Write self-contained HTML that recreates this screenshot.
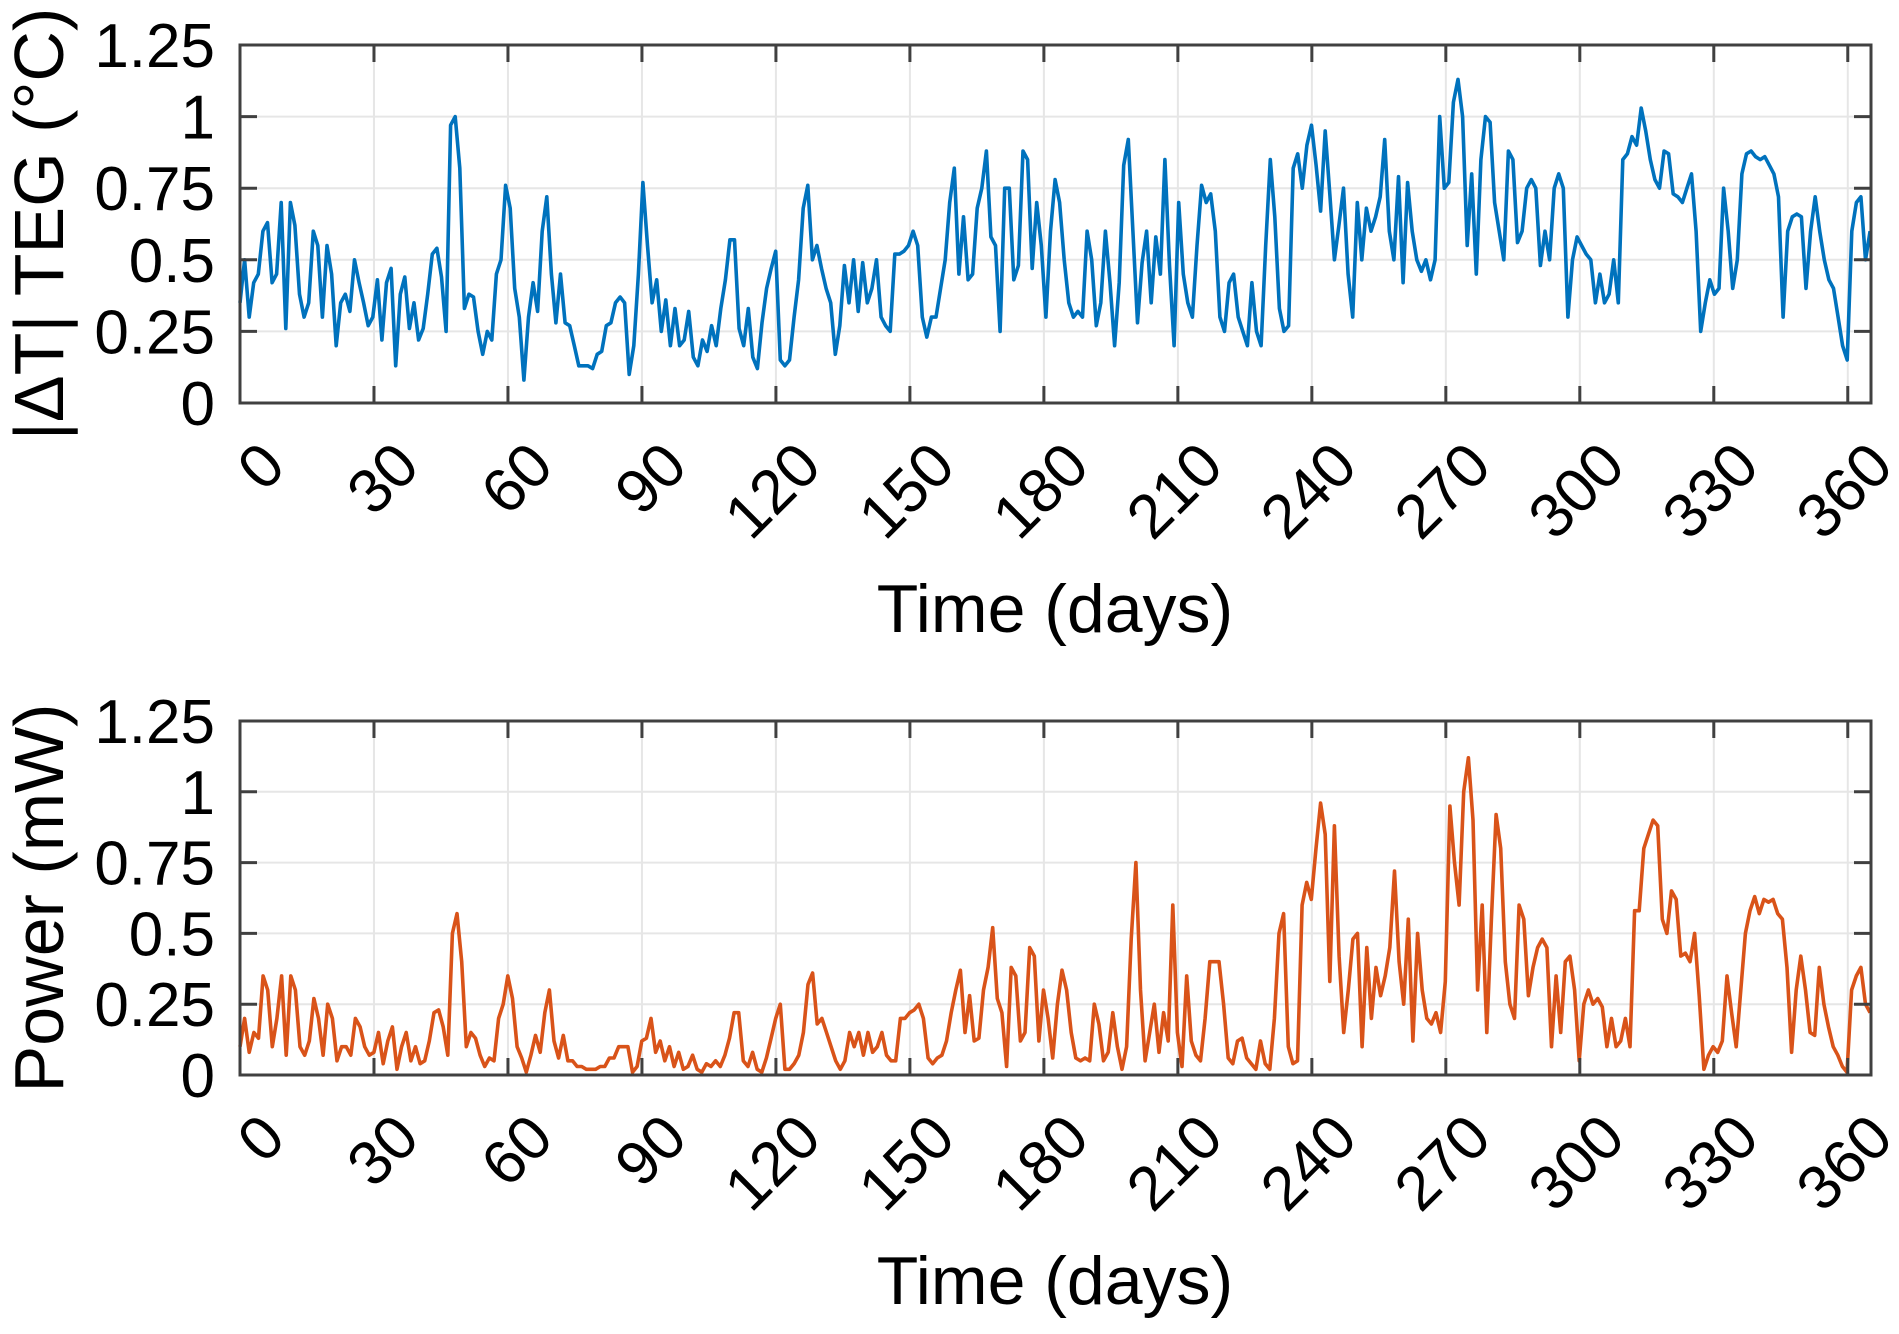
<!DOCTYPE html>
<html><head><meta charset="utf-8"><style>
html,body{margin:0;padding:0;background:#fff;}
svg{display:block;font-family:"Liberation Sans",Arial,sans-serif;}
</style></head><body>
<svg id="chart" width="1899" height="1334" viewBox="0 0 1899 1334"></svg>
<script>
const xTicks=[0,30,60,90,120,150,180,210,240,270,300,330,360];
const yTicks=[0,0.25,0.5,0.75,1,1.25];
const yTickLabels=["0","0.25","0.5","0.75","1","1.25"];
const dayMax=365;
const deltaT=[0.35,0.5,0.3,0.42,0.45,0.6,0.63,0.42,0.45,0.7,0.26,0.7,0.62,0.38,0.3,0.35,0.6,0.55,0.3,0.55,0.45,0.2,0.35,0.38,0.32,0.5,0.42,0.35,0.27,0.3,0.43,0.22,0.42,0.47,0.13,0.38,0.44,0.26,0.35,0.22,0.26,0.38,0.52,0.54,0.44,0.25,0.97,1.0,0.82,0.33,0.38,0.37,0.25,0.17,0.25,0.22,0.45,0.5,0.76,0.68,0.4,0.3,0.08,0.3,0.42,0.32,0.6,0.72,0.45,0.28,0.45,0.28,0.27,0.2,0.13,0.13,0.13,0.12,0.17,0.18,0.27,0.28,0.35,0.37,0.35,0.1,0.2,0.45,0.77,0.55,0.35,0.43,0.25,0.36,0.2,0.33,0.2,0.22,0.32,0.16,0.13,0.22,0.18,0.27,0.2,0.33,0.43,0.57,0.57,0.26,0.2,0.33,0.16,0.12,0.28,0.4,0.47,0.53,0.15,0.13,0.15,0.3,0.43,0.68,0.76,0.5,0.55,0.47,0.4,0.35,0.17,0.27,0.48,0.35,0.5,0.32,0.49,0.35,0.4,0.5,0.3,0.27,0.25,0.52,0.52,0.53,0.55,0.6,0.55,0.3,0.23,0.3,0.3,0.4,0.5,0.7,0.82,0.45,0.65,0.43,0.45,0.68,0.75,0.88,0.58,0.55,0.25,0.75,0.75,0.43,0.48,0.88,0.85,0.47,0.7,0.55,0.3,0.6,0.78,0.7,0.5,0.35,0.3,0.32,0.3,0.6,0.5,0.27,0.35,0.6,0.42,0.2,0.42,0.83,0.92,0.6,0.28,0.49,0.6,0.35,0.58,0.45,0.85,0.48,0.2,0.7,0.45,0.35,0.3,0.55,0.76,0.7,0.73,0.6,0.3,0.25,0.42,0.45,0.3,0.25,0.2,0.42,0.25,0.2,0.55,0.85,0.65,0.33,0.25,0.27,0.82,0.87,0.75,0.9,0.97,0.83,0.67,0.95,0.73,0.5,0.62,0.75,0.45,0.3,0.7,0.5,0.68,0.6,0.65,0.72,0.92,0.6,0.5,0.79,0.42,0.77,0.6,0.5,0.46,0.5,0.43,0.5,1.0,0.75,0.77,1.05,1.13,1.0,0.55,0.8,0.45,0.85,1.0,0.98,0.7,0.6,0.5,0.88,0.85,0.56,0.6,0.75,0.78,0.75,0.48,0.6,0.5,0.75,0.8,0.75,0.3,0.5,0.58,0.55,0.52,0.5,0.35,0.45,0.35,0.38,0.5,0.35,0.85,0.87,0.93,0.9,1.03,0.95,0.85,0.78,0.75,0.88,0.87,0.73,0.72,0.7,0.75,0.8,0.6,0.25,0.35,0.43,0.38,0.4,0.75,0.6,0.4,0.5,0.8,0.87,0.88,0.86,0.85,0.86,0.83,0.8,0.72,0.3,0.6,0.65,0.66,0.65,0.4,0.6,0.72,0.6,0.5,0.43,0.4,0.3,0.2,0.15,0.6,0.7,0.72,0.5,0.6];
const power=[0.1,0.2,0.08,0.15,0.13,0.35,0.3,0.1,0.2,0.35,0.07,0.35,0.3,0.1,0.07,0.12,0.27,0.2,0.07,0.25,0.2,0.05,0.1,0.1,0.07,0.2,0.17,0.1,0.07,0.08,0.15,0.04,0.12,0.17,0.02,0.1,0.15,0.05,0.1,0.04,0.05,0.12,0.22,0.23,0.17,0.07,0.5,0.57,0.4,0.1,0.15,0.13,0.07,0.03,0.06,0.05,0.2,0.25,0.35,0.27,0.1,0.06,0.01,0.07,0.14,0.08,0.22,0.3,0.12,0.06,0.14,0.05,0.05,0.03,0.03,0.02,0.02,0.02,0.03,0.03,0.06,0.06,0.1,0.1,0.1,0.01,0.03,0.12,0.13,0.2,0.08,0.12,0.05,0.1,0.03,0.08,0.02,0.03,0.07,0.02,0.01,0.04,0.03,0.05,0.03,0.07,0.13,0.22,0.22,0.05,0.03,0.08,0.02,0.01,0.06,0.13,0.2,0.25,0.02,0.02,0.04,0.07,0.15,0.32,0.36,0.18,0.2,0.15,0.1,0.05,0.02,0.05,0.15,0.1,0.15,0.07,0.15,0.08,0.1,0.15,0.07,0.05,0.05,0.2,0.2,0.22,0.23,0.25,0.2,0.06,0.04,0.06,0.07,0.12,0.22,0.3,0.37,0.15,0.28,0.12,0.13,0.3,0.38,0.52,0.27,0.22,0.03,0.38,0.35,0.12,0.15,0.45,0.42,0.12,0.3,0.2,0.06,0.25,0.37,0.3,0.15,0.06,0.05,0.06,0.05,0.25,0.18,0.05,0.08,0.22,0.1,0.02,0.1,0.48,0.75,0.3,0.05,0.15,0.25,0.08,0.22,0.12,0.6,0.15,0.03,0.35,0.12,0.07,0.05,0.2,0.4,0.4,0.4,0.25,0.06,0.04,0.12,0.13,0.06,0.04,0.02,0.12,0.04,0.02,0.2,0.5,0.57,0.1,0.04,0.05,0.6,0.68,0.62,0.8,0.96,0.85,0.33,0.88,0.42,0.15,0.3,0.48,0.5,0.1,0.45,0.2,0.38,0.28,0.35,0.45,0.72,0.4,0.25,0.55,0.12,0.5,0.3,0.2,0.18,0.22,0.15,0.33,0.95,0.75,0.6,1.0,1.12,0.9,0.3,0.6,0.15,0.55,0.92,0.8,0.4,0.25,0.2,0.6,0.55,0.28,0.38,0.45,0.48,0.45,0.1,0.35,0.15,0.4,0.42,0.3,0.05,0.25,0.3,0.25,0.27,0.24,0.1,0.2,0.1,0.12,0.2,0.1,0.58,0.58,0.8,0.85,0.9,0.88,0.55,0.5,0.65,0.62,0.42,0.43,0.4,0.5,0.28,0.02,0.07,0.1,0.08,0.12,0.35,0.22,0.1,0.3,0.5,0.58,0.63,0.57,0.62,0.61,0.62,0.57,0.55,0.38,0.08,0.3,0.42,0.3,0.15,0.14,0.38,0.25,0.17,0.1,0.07,0.03,0.01,0.3,0.35,0.38,0.25,0.22];

const NS="http://www.w3.org/2000/svg";
const svg=document.getElementById('chart');
function mk(tag,attrs,parent){const e=document.createElementNS(NS,tag);for(const k in attrs)e.setAttribute(k,attrs[k]);(parent||svg).appendChild(e);return e;}

function drawPanel(prefix,top,bottom,values,color,ylabel){
  const L=240,R=1871,xMax=dayMax,yMax=1.25;
  const sx=d=>L+(d/xMax)*(R-L)*(365/365.2);
  const sy=v=>bottom-(v/yMax)*(bottom-top);
  const g=mk('g',{});
  
  
  xTicks.forEach(t=>{const l=mk('line',{x1:sx(t),x2:sx(t),y1:top,y2:bottom,stroke:'#e6e6e6','stroke-width':2},g);
    
    });
  yTicks.forEach(t=>{const l=mk('line',{x1:L,x2:R,y1:sy(t),y2:sy(t),stroke:'#e6e6e6','stroke-width':2},g);
    
    });
  const n=values.length;
  const pts=values.map((v,i)=>sx(i*dayMax/(n-1)).toFixed(1)+','+sy(v).toFixed(1)).join(' ');
  const pl=mk('polyline',{points:pts,fill:'none',stroke:color,'stroke-width':3.6,'stroke-linejoin':'round'},g);
  
  
  const fr=mk('rect',{x:L,y:top,width:R-L,height:bottom-top,fill:'none',stroke:'#404040','stroke-width':3},g);
  
  
  xTicks.forEach(t=>{
    mk('line',{x1:sx(t),x2:sx(t),y1:bottom,y2:bottom-17,stroke:'#404040','stroke-width':3},g);
    mk('line',{x1:sx(t),x2:sx(t),y1:top,y2:top+17,stroke:'#404040','stroke-width':3},g);
    const tx=mk('text',{x:0,y:0,'font-size':62,'text-anchor':'end',fill:'#000',transform:`translate(${sx(t)+48},${bottom+66}) rotate(-45)`},g);
    tx.textContent=String(t);
    
    
  });
  yTicks.forEach((t,i)=>{
    mk('line',{x1:L,x2:L+17,y1:sy(t),y2:sy(t),stroke:'#404040','stroke-width':3},g);
    mk('line',{x1:R,x2:R-17,y1:sy(t),y2:sy(t),stroke:'#404040','stroke-width':3},g);
    const tx=mk('text',{x:215,y:sy(t)+22,'font-size':62,'text-anchor':'end',fill:'#000'},g);
    tx.textContent=yTickLabels[i];
    
    
  });
  const xl=mk('text',{x:1055,y:bottom+229,'font-size':68,'text-anchor':'middle',fill:'#000'},g);
  xl.textContent='Time (days)';
  
  
  const yl=mk('text',{x:0,y:0,'font-size':70,'text-anchor':'middle',fill:'#000',transform:`translate(63,${(top+bottom)/2}) rotate(-90)`},g);
  yl.textContent=ylabel;
  
  
}
drawPanel('delta-t',45,403,deltaT,'#0072BD','|ΔT| TEG (°C)');
drawPanel('power',721,1075,power,'#D95319','Power (mW)');
</script>
</body></html>
